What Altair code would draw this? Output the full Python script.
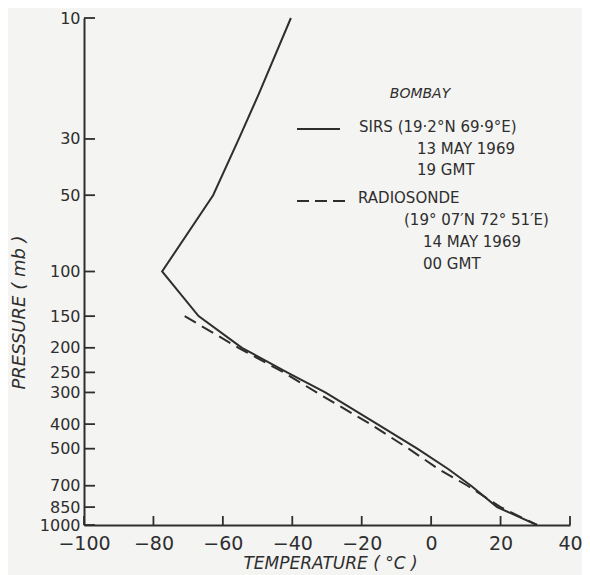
import altair as alt
import pandas as pd

# ---- data ----
sirs_pressure = [10, 20, 30, 50, 100, 150, 200, 250, 300, 400, 500, 600, 700, 850, 1000]
sirs_temp = [-40.4, -49.7, -55.4, -62.8, -77.5, -67.0, -54.5, -41.5, -30.5, -15.5, -4.0, 4.8, 11.5, 19.0, 30.5]
rs_pressure = [150, 200, 250, 300, 400, 500, 600, 700, 850, 1000]
rs_temp = [-71.0, -55.5, -42.5, -33.0, -17.5, -6.5, 2.0, 10.5, 20.0, 30.5]
pressure_ticks = [10, 30, 50, 100, 150, 200, 250, 300, 400, 500, 700, 850, 1000]
temp_ticks = [-100, -80, -60, -40, -20, 0, 20, 40]

title_text = "BOMBAY"
sirs_lines = ["SIRS (19·2°N  69·9°E)", "13 MAY 1969", "19 GMT"]
rs_lines = ["RADIOSONDE", "(19° 07′N  72° 51′E)", "14 MAY 1969", "00 GMT"]

sirs_df = pd.DataFrame({"p": sirs_pressure, "t": sirs_temp})
rs_df = pd.DataFrame({"p": rs_pressure, "t": rs_temp})
pt_df = pd.DataFrame({"p": pressure_ticks})
tt_df = pd.DataFrame({"t": temp_ticks})
one = pd.DataFrame({"a": [0]})

W, H = 486, 507
TOP = 10
INK = "#2e2e2e"
FONT = "DejaVu Sans"

xscale = alt.Scale(domain=[-100, 40], nice=False, zero=False)
yscale = alt.Scale(type="log", domain=[10, 1000], reverse=True, nice=False)

xaxis = alt.Axis(values=temp_ticks, ticks=False, grid=False, labelPadding=9,
                 labelFontSize=19, labelColor=INK, labelFont=FONT, labelFlush=False,
                 format="d", domainColor=INK, domainWidth=2,
                 title="TEMPERATURE ( °C )", titleFont=FONT, titleFontSize=17,
                 titleFontStyle="italic", titleFontWeight="normal", titleColor=INK,
                 titleX=246, titleY=38, titleAnchor="middle", titleBaseline="middle")
yaxis = alt.Axis(values=pressure_ticks, ticks=False, grid=False, labelPadding=4,
                 labelFontSize=16, labelColor=INK, labelFont=FONT, labelOverlap=False,
                 labelFlush=False, labelBound=False, format="d",
                 domainColor=INK, domainWidth=2,
                 title="PRESSURE ( mb )", titleFont=FONT, titleFontSize=18,
                 titleFontStyle="italic", titleFontWeight="normal", titleColor=INK,
                 titleX=-65, titleY=294, titleAngle=270, titleAnchor="middle",
                 titleBaseline="middle")

X = alt.X("t:Q", scale=xscale, axis=xaxis)
Y = alt.Y("p:Q", scale=yscale, axis=yaxis)

sirs = alt.Chart(sirs_df).mark_line(color=INK, strokeWidth=2).encode(
    x=X, y=Y, order="p:Q",
)
rs = alt.Chart(rs_df).mark_line(color=INK, strokeWidth=2, strokeDash=[13, 7]).encode(
    x=X, y=Y, order="p:Q",
)
yticks = alt.Chart(pt_df).mark_rule(color=INK, strokeWidth=1.8).encode(
    y=Y, x=alt.value(0), x2=alt.value(11),
)
xticks = alt.Chart(tt_df).mark_rule(color=INK, strokeWidth=1.8).encode(
    x=X, y=alt.value(H), y2=alt.value(H - 9),
)

def txt(s, x, y, align="left", style="normal", size=15):
    return alt.Chart(one).mark_text(text=s, align=align, baseline="middle",
                                    font=FONT, fontSize=size, fontStyle=style,
                                    color=INK).encode(x=alt.value(x), y=alt.value(y))

ann = [
    txt(title_text, 336, 76, align="center", style="italic", size=14),
    txt(sirs_lines[0], 275, 109),
    txt(sirs_lines[1], 333, 131),
    txt(sirs_lines[2], 333, 152),
    txt(rs_lines[0], 274, 180),
    txt(rs_lines[1], 320, 202),
    txt(rs_lines[2], 339, 224),
    txt(rs_lines[3], 339, 246),
]
leg_solid = alt.Chart(one).mark_rule(color=INK, strokeWidth=2).encode(
    x=alt.value(213), x2=alt.value(256), y=alt.value(111))
leg_dash = alt.Chart(one).mark_rule(color=INK, strokeWidth=2, strokeDash=[12, 6]).encode(
    x=alt.value(213), x2=alt.value(266), y=alt.value(183))

chart = alt.layer(sirs, rs, yticks, xticks, leg_solid, leg_dash, *ann).properties(
    width=W, height=H,
    autosize=alt.AutoSizeParams(type="none"),
    padding={"left": 76, "top": TOP, "right": 12, "bottom": 575 - 8 - TOP - H},
    background="#f4f4f2",
).configure_view(stroke=None)

chart.save("out.html", embed_options={"renderer": "svg", "actions": False})
